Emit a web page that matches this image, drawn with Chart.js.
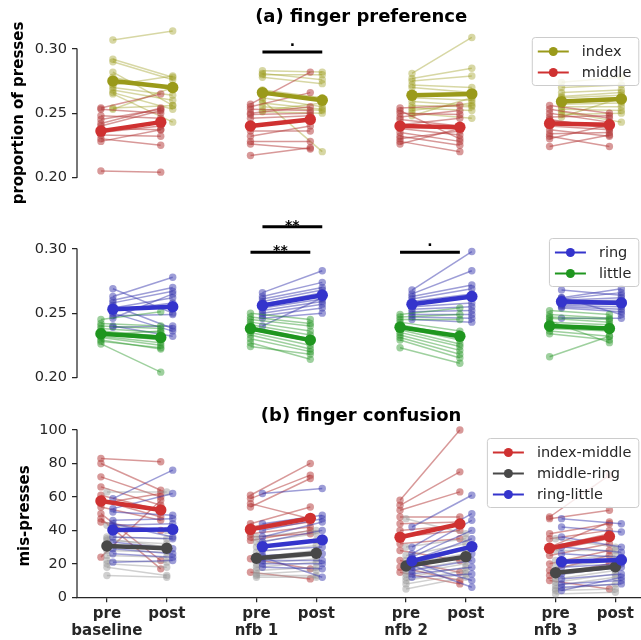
<!DOCTYPE html>
<html>
<head>
<meta charset="utf-8">
<title>finger preference / finger confusion</title>
<script src="https://cdn.jsdelivr.net/npm/chart.js@4.4.1/dist/chart.umd.min.js"></script>
<style>
  html, body { margin: 0; padding: 0; background: #fff; overflow: hidden; }
  #wrap { position: relative; width: 641px; height: 640px; overflow: hidden; }
  #wrap canvas { position: absolute; left: 0; top: 0; }
</style>
</head>
<body>
<div id="wrap">
  <canvas id="pref-top" width="651" height="640"></canvas>
  <canvas id="pref-bottom" width="651" height="640"></canvas>
  <canvas id="confusion" width="651" height="640"></canvas>
</div>
<script>
/* Data. One row per session, one column per subject. */
const sessions = ["baseline", "nfb 1", "nfb 2", "nfb 3"];
const phases = ["pre", "post"];

// (a) finger preference - proportion of presses
const indexPre = [
    [0.307, 0.292, 0.290, 0.282, 0.278, 0.272, 0.270, 0.268, 0.266, 0.265, 0.254, 0.253],
    [0.283, 0.281, 0.280, 0.278, 0.268, 0.265, 0.262, 0.260, 0.258, 0.255, 0.251, 0.252],
    [0.281, 0.277, 0.275, 0.272, 0.270, 0.262, 0.259, 0.256, 0.254, 0.252, 0.250, 0.248],
    [0.274, 0.270, 0.266, 0.263, 0.260, 0.257, 0.255, 0.253, 0.251, 0.249, 0.247, 0.262],
];
const indexPost = [
    [0.314, 0.278, 0.276, 0.256, 0.268, 0.279, 0.264, 0.260, 0.253, 0.243, 0.256, 0.270],
    [0.282, 0.276, 0.280, 0.273, 0.262, 0.260, 0.255, 0.220, 0.253, 0.252, 0.250, 0.258],
    [0.309, 0.285, 0.279, 0.270, 0.266, 0.260, 0.256, 0.255, 0.252, 0.258, 0.246, 0.262],
    [0.278, 0.272, 0.268, 0.266, 0.262, 0.258, 0.255, 0.252, 0.243, 0.250, 0.262, 0.264],
];
const indexMean = [[0.275, 0.270], [0.266, 0.260], [0.264, 0.265], [0.259, 0.261]];

const middlePre = [
    [0.254, 0.253, 0.248, 0.245, 0.242, 0.238, 0.235, 0.233, 0.230, 0.228, 0.240, 0.205],
    [0.257, 0.255, 0.253, 0.249, 0.246, 0.240, 0.236, 0.232, 0.228, 0.226, 0.217, 0.250],
    [0.254, 0.252, 0.250, 0.247, 0.245, 0.241, 0.238, 0.235, 0.232, 0.230, 0.228, 0.226],
    [0.256, 0.253, 0.250, 0.247, 0.244, 0.240, 0.237, 0.234, 0.232, 0.230, 0.224, 0.245],
];
const middlePost = [
    [0.265, 0.250, 0.246, 0.253, 0.254, 0.237, 0.240, 0.232, 0.225, 0.237, 0.252, 0.204],
    [0.282, 0.266, 0.252, 0.250, 0.248, 0.244, 0.236, 0.240, 0.228, 0.222, 0.223, 0.255],
    [0.256, 0.230, 0.249, 0.252, 0.240, 0.246, 0.233, 0.228, 0.225, 0.236, 0.220, 0.238],
    [0.250, 0.246, 0.243, 0.248, 0.240, 0.237, 0.232, 0.235, 0.224, 0.241, 0.233, 0.238],
];
const middleMean = [[0.236, 0.243], [0.240, 0.245], [0.240, 0.239], [0.242, 0.241]];

const ringPre = [
    [0.269, 0.263, 0.260, 0.258, 0.256, 0.254, 0.252, 0.250, 0.248, 0.246, 0.240, 0.239],
    [0.266, 0.263, 0.261, 0.259, 0.257, 0.256, 0.254, 0.252, 0.250, 0.248, 0.246, 0.240],
    [0.268, 0.265, 0.263, 0.261, 0.259, 0.257, 0.255, 0.253, 0.251, 0.249, 0.247, 0.245],
    [0.262, 0.261, 0.260, 0.259, 0.258, 0.257, 0.256, 0.255, 0.254, 0.262, 0.246, 0.268],
];
const ringPost = [
    [0.250, 0.278, 0.270, 0.267, 0.238, 0.262, 0.258, 0.236, 0.249, 0.265, 0.232, 0.240],
    [0.283, 0.274, 0.270, 0.268, 0.266, 0.263, 0.261, 0.259, 0.257, 0.254, 0.250, 0.262],
    [0.298, 0.283, 0.272, 0.269, 0.265, 0.262, 0.258, 0.255, 0.252, 0.249, 0.246, 0.243],
    [0.269, 0.266, 0.262, 0.260, 0.258, 0.257, 0.255, 0.253, 0.251, 0.249, 0.246, 0.264],
];
const ringMean = [[0.253, 0.255], [0.256, 0.264], [0.257, 0.263], [0.259, 0.258]];

const littlePre = [
    [0.245, 0.242, 0.240, 0.238, 0.236, 0.234, 0.232, 0.231, 0.229, 0.228, 0.226, 0.233],
    [0.250, 0.247, 0.245, 0.243, 0.241, 0.239, 0.237, 0.235, 0.233, 0.230, 0.227, 0.224],
    [0.249, 0.247, 0.245, 0.243, 0.241, 0.239, 0.237, 0.235, 0.233, 0.231, 0.229, 0.223],
    [0.252, 0.249, 0.246, 0.243, 0.241, 0.240, 0.238, 0.236, 0.234, 0.244, 0.216, 0.247],
];
const littlePost = [
    [0.251, 0.240, 0.238, 0.235, 0.232, 0.229, 0.227, 0.225, 0.222, 0.223, 0.204, 0.236],
    [0.245, 0.242, 0.240, 0.236, 0.233, 0.230, 0.228, 0.225, 0.222, 0.220, 0.214, 0.218],
    [0.254, 0.249, 0.245, 0.236, 0.232, 0.229, 0.226, 0.224, 0.221, 0.218, 0.215, 0.211],
    [0.249, 0.246, 0.243, 0.241, 0.239, 0.238, 0.236, 0.232, 0.229, 0.227, 0.232, 0.245],
];
const littleMean = [[0.234, 0.231], [0.238, 0.229], [0.239, 0.232], [0.240, 0.238]];

// (b) finger confusion - mis-presses
const imPre = [
    [83, 80, 72, 66, 61, 58, 54, 50, 47, 24, 56, 45],
    [61, 59, 54, 44, 42, 40, 38, 36, 23, 15, 56, 34],
    [58, 55, 52, 48, 44, 40, 36, 32, 28, 22, 18, 15],
    [48, 47, 38, 35, 30, 28, 25, 20, 16, 13, 10, 30],
];
const imPost = [
    [81, 64, 60, 55, 52, 48, 46, 22, 17, 58, 62, 40],
    [80, 73, 71, 54, 48, 45, 42, 38, 17, 11, 47, 40],
    [100, 75, 63, 48, 45, 43, 40, 35, 22, 15, 10, 8],
    [73, 52, 44, 40, 38, 35, 32, 28, 25, 20, 5, 45],
];
const imMean = [[57.6, 52.2], [40.6, 47.2], [35.9, 43.8], [29.3, 36.3]];

const mrPre = [
    [63, 43, 36, 34, 31, 28, 25, 22, 20, 18, 13, 35],
    [36, 33, 30, 27, 24, 22, 20, 18, 16, 14, 13, 12],
    [47, 30, 25, 22, 20, 18, 16, 14, 12, 10, 8, 5],
    [35, 28, 22, 18, 15, 13, 11, 9, 7, 5, 4, 2],
];
const mrPost = [
    [63, 40, 35, 32, 30, 27, 24, 21, 18, 13, 12, 30],
    [40, 38, 34, 31, 28, 25, 23, 21, 18, 16, 13, 12],
    [38, 35, 32, 28, 26, 24, 22, 20, 18, 16, 14, 12],
    [30, 28, 25, 22, 20, 18, 16, 14, 12, 8, 5, 3],
];
const mrMean = [[30.7, 29.3], [23.3, 26.3], [18.7, 24.3], [14.7, 18.3]];

const rlPre = [
    [59, 53, 51, 46, 43, 40, 36, 33, 29, 26, 21, 44],
    [62, 44, 40, 36, 33, 30, 28, 25, 22, 20, 18, 24],
    [42, 30, 26, 24, 22, 20, 18, 16, 14, 12, 21, 19],
    [47, 42, 36, 30, 26, 22, 18, 14, 11, 8, 6, 4],
];
const rlPost = [
    [76, 62, 49, 47, 44, 40, 35, 29, 26, 24, 22, 36],
    [65, 49, 47, 45, 40, 35, 30, 26, 22, 20, 17, 12],
    [61, 50, 46, 40, 35, 30, 26, 22, 18, 14, 10, 6],
    [44, 39, 30, 27, 24, 22, 20, 18, 14, 10, 8, 12],
];
const rlMean = [[40.2, 40.6], [30.3, 34.3], [21.7, 30.3], [21.3, 22.3]];

// significance bars (x in session units, y in data units)
const sigPrefTop = [{from: 2.6, to: 3.6, y: 0.2977, text: "."}];
const sigPrefBottom = [
    {from: 2.6, to: 3.6, y: 0.3174, text: "**"},
    {from: 2.4, to: 3.4, y: 0.2974, text: "**"},
    {from: 4.9, to: 5.9, y: 0.2974, text: "."},
];

const prefTicks = [0.20, 0.25, 0.30];
const confusionTicks = [0, 20, 40, 60, 80, 100];

/* Styling ***********************************************************/

const INK = "#262626";
const FAMILY = '"DejaVu Sans", sans-serif';
const SESSION_STEP = 2.5;

const colors = {
    index: ["#9a9a1a", "rgba(154, 154, 28, 0.4)"],
    middle: ["#cf3131", "rgba(180, 60, 60, 0.52)"],
    ring: ["#3434cc", "rgba(60, 60, 175, 0.5)"],
    little: ["#1f961f", "rgba(40, 150, 40, 0.45)"],
    mr: ["#484848", "rgba(150, 150, 150, 0.45)"],
};

const xAt = (s, p, shift) => s * SESSION_STEP + p + shift;

// one dataset per subject, broken between sessions by a null point
const subjectLines = (pre, post, shift, color) => pre[0].map((_, i) => ({
    data: pre.flatMap((row, s) => [
        {x: xAt(s, 0, shift), y: row[i]},
        {x: xAt(s, 1, shift), y: post[s][i]},
        {x: xAt(s, 1.5, shift), y: null},
    ]),
    borderColor: color, backgroundColor: color,
    borderWidth: 1.5, pointRadius: 3.7, pointBorderWidth: 0,
}));

const meanLine = (mean, shift, color) => ({
    data: mean.flatMap((pair, s) => [
        {x: xAt(s, 0, shift), y: pair[0]},
        {x: xAt(s, 1, shift), y: pair[1]},
        {x: xAt(s, 1.5, shift), y: null},
    ]),
    borderColor: color, backgroundColor: color,
    borderWidth: 4.5, pointRadius: 5.7, pointBorderWidth: 0,
});

// list is back-to-front; chart.js draws the highest order first
const stack = (list) => {
    list.forEach((d, i) => { d.order = list.length - i; });
    return list;
};

/* Extra drawing: trimmed spine, titles, legend box, significance bars. */
const decor = {
    id: "decor",
    afterDraw(chart, args, opts) {
        const {ctx, chartArea: area, scales: {x, y}} = chart;
        ctx.save();

        ctx.strokeStyle = INK;
        ctx.lineWidth = 1.25;
        ctx.beginPath();
        ctx.moveTo(area.left, y.getPixelForValue(opts.spine[0]) + 0.6);
        ctx.lineTo(area.left, y.getPixelForValue(opts.spine[1]) - 0.6);
        ctx.stroke();

        ctx.fillStyle = "#000";
        ctx.textAlign = "center";
        ctx.textBaseline = "alphabetic";
        if (opts.title) {
            ctx.font = `bold 18px ${FAMILY}`;
            ctx.fillText(opts.title, (area.left + area.right) / 2, opts.titleY);
        }

        if (opts.ylabel) {
            ctx.save();
            ctx.translate(opts.ylabelX, opts.ylabelY);
            ctx.rotate(-Math.PI / 2);
            ctx.font = `bold 15px ${FAMILY}`;
            ctx.textBaseline = "middle";
            ctx.fillText(opts.ylabel, 0, 0);
            ctx.restore();
        }

        (opts.sig || []).forEach((b) => {
            const x0 = x.getPixelForValue(b.from), x1 = x.getPixelForValue(b.to);
            const py = y.getPixelForValue(b.y);
            ctx.strokeStyle = "#000";
            ctx.lineWidth = 3;
            ctx.beginPath();
            ctx.moveTo(x0, py);
            ctx.lineTo(x1, py);
            ctx.stroke();
            ctx.font = `bold 14px ${FAMILY}`;
            ctx.fillText(b.text, (x0 + x1) / 2, py + (b.text === "." ? -6 : 3));
        });

        if (opts.legend) {
            const lg = opts.legend;
            ctx.font = `14.5px ${FAMILY}`;
            const textW = Math.max(...lg.items.map((it) => ctx.measureText(it.label).width));
            const w = 50 + textW + 7, h = lg.items.length * 21 + 6;
            const right = area.right - 7, left = right - w, top = lg.top;
            ctx.fillStyle = "rgba(255, 255, 255, 0.8)";
            ctx.strokeStyle = "#cccccc";
            ctx.lineWidth = 1;
            ctx.beginPath();
            ctx.roundRect(left + 0.5, top + 0.5, w, h, 3);
            ctx.fill();
            ctx.stroke();
            ctx.textAlign = "left";
            ctx.textBaseline = "middle";
            lg.items.forEach((it, i) => {
                const cy = top + 14.5 + i * 21;
                ctx.strokeStyle = it.color;
                ctx.lineWidth = 2;
                ctx.beginPath();
                ctx.moveTo(left + 6, cy);
                ctx.lineTo(left + 37, cy);
                ctx.stroke();
                ctx.fillStyle = it.color;
                ctx.beginPath();
                ctx.arc(left + 21.5, cy, 4.5, 0, Math.PI * 2);
                ctx.fill();
                ctx.fillStyle = INK;
                ctx.fillText(it.label, left + 50, cy + 0.5);
            });
        }
        ctx.restore();
    },
};

const xTicks = sessions.flatMap((_, s) => [xAt(s, 0, 0), xAt(s, 1, 0)]);

const makeChart = (id, cfg) => {
    const withAxis = !!cfg.xAxis;
    return new Chart(document.getElementById(id), {
        type: "line",
        data: {datasets: cfg.datasets},
        options: {
            responsive: false,
            animation: false,
            events: [],
            layout: {padding: {left: 0, right: 0, top: cfg.top, bottom: withAxis ? 0 : 640 - cfg.bottom}},
            elements: {line: {tension: 0}},
            datasets: {line: {clip: false, spanGaps: false}},
            plugins: {legend: {display: false}, tooltip: {enabled: false}, decor: cfg.decor},
            scales: {
                x: {
                    type: "linear", min: -0.5, max: 9, display: withAxis,
                    afterFit: withAxis ? (s) => { s.height = 640 - cfg.bottom; } : undefined,
                    afterBuildTicks: (s) => { s.ticks = xTicks.map((v) => ({value: v})); },
                    border: {display: true, color: INK, width: 1.25},
                    grid: {drawOnChartArea: false, drawTicks: true, tickLength: 5, color: INK, lineWidth: 1.25},
                    ticks: {
                        autoSkip: false, maxRotation: 0, minRotation: 0, padding: 4, color: INK,
                        font: {family: FAMILY, size: 15, weight: "bold", lineHeight: 1.1},
                        callback: (v, i) => (i % 2 === 0 ? [phases[0], sessions[i / 2]] : phases[1]),
                    },
                },
                y: {
                    type: "linear", min: cfg.yMin, max: cfg.yMax,
                    afterFit: (s) => { s.width = 77; },
                    afterBuildTicks: (s) => { s.ticks = cfg.yTicks.map((v) => ({value: v})); },
                    border: {display: false},
                    grid: {drawOnChartArea: false, drawTicks: true, tickLength: 5, color: INK, lineWidth: 1.25},
                    ticks: {padding: 5, color: INK, font: {family: FAMILY, size: 14.5}, callback: cfg.yFormat},
                },
            },
        },
        plugins: [decor],
    });
};

// 0.30 sits at y=49 and 0.20 at y=177.3 in the top panel (1283 px per unit)
const PREF_PX = 1283;

makeChart("pref-top", {
    top: 24, bottom: 202,
    yMin: 0.20 - (202 - 177.3) / PREF_PX, yMax: 0.30 + (49 - 24) / PREF_PX,
    yTicks: prefTicks, yFormat: (v) => v.toFixed(2),
    datasets: stack([
        ...subjectLines(indexPre, indexPost, 0.1, colors.index[1]),
        ...subjectLines(middlePre, middlePost, -0.1, colors.middle[1]),
        meanLine(indexMean, 0.1, colors.index[0]),
        meanLine(middleMean, -0.1, colors.middle[0]),
    ]),
    decor: {
        spine: [0.20, 0.30], title: "(a) finger preference", titleY: 21.5,
        ylabel: "proportion of presses", ylabelX: 19, ylabelY: 113,
        sig: sigPrefTop,
        legend: {top: 37, items: [{label: "index", color: colors.index[0]}, {label: "middle", color: colors.middle[0]}]},
    },
});

makeChart("pref-bottom", {
    top: 224, bottom: 402,
    yMin: 0.20 - (402 - 377.3) / PREF_PX, yMax: 0.30 + (249 - 224) / PREF_PX,
    yTicks: prefTicks, yFormat: (v) => v.toFixed(2),
    datasets: stack([
        ...subjectLines(ringPre, ringPost, 0.1, colors.ring[1]),
        ...subjectLines(littlePre, littlePost, -0.1, colors.little[1]),
        meanLine(ringMean, 0.1, colors.ring[0]),
        meanLine(littleMean, -0.1, colors.little[0]),
    ]),
    decor: {
        spine: [0.20, 0.30], sig: sigPrefBottom,
        legend: {top: 238, items: [{label: "ring", color: colors.ring[0]}, {label: "little", color: colors.little[0]}]},
    },
});

makeChart("confusion", {
    top: 421, bottom: 597.3, xAxis: true,
    yMin: 0, yMax: (597.3 - 421) / 1.673,
    yTicks: confusionTicks, yFormat: (v) => String(v),
    datasets: stack([
        ...subjectLines(imPre, imPost, -0.1, colors.middle[1]),
        ...subjectLines(mrPre, mrPost, 0, colors.mr[1]),
        ...subjectLines(rlPre, rlPost, 0.1, colors.ring[1]),
        meanLine(imMean, -0.1, colors.middle[0]),
        meanLine(mrMean, 0, colors.mr[0]),
        meanLine(rlMean, 0.1, colors.ring[0]),
    ]),
    decor: {
        spine: [0, 100], title: "(b) finger confusion", titleY: 421,
        ylabel: "mis-presses", ylabelX: 25, ylabelY: 516,
        legend: {top: 438, items: [
            {label: "index-middle", color: colors.middle[0]},
            {label: "middle-ring", color: colors.mr[0]},
            {label: "ring-little", color: colors.ring[0]},
        ]},
    },
});
</script>
</body>
</html>
